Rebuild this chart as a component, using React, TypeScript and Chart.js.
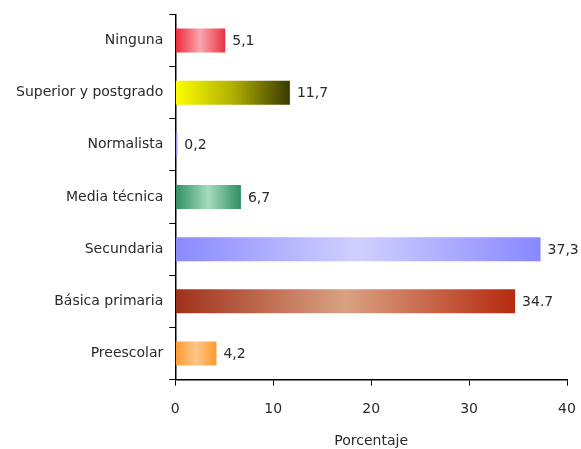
import React, { useEffect, useRef } from "react";
import { Chart, registerables } from "chart.js";

Chart.register(...registerables);

const categories = [
  "Ninguna",
  "Superior y postgrado",
  "Normalista",
  "Media técnica",
  "Secundaria",
  "Básica primaria",
  "Preescolar",
];
const values = [5.1, 11.7, 0.2, 6.7, 37.3, 34.7, 4.2];
const valueLabels = ["5,1", "11,7", "0,2", "6,7", "37,3", "34.7", "4,2"];
const xTicks = [0, 10, 20, 30, 40];
const gradientStops: string[][] = [
  ["#ee2a36", "#f9a6ae", "#e8323e"],
  ["#ffff00", "#b0b000", "#3a3a00"],
  ["#7070e0", "#a0a0f0", "#7070e0"],
  ["#2f8f5f", "#a6dcc0", "#2f8f5f"],
  ["#8a8aff", "#d0d0ff", "#8888ff"],
  ["#a0301a", "#d9a283", "#b52a10"],
  ["#ff9a30", "#ffc689", "#ff9a30"],
];

const FONT = "'DejaVu Sans', sans-serif";
const TEXT = "#2a2a2a";

const valueLabelPlugin = {
  id: "valueLabels",
  afterDatasetsDraw(chart: any) {
    const ctx = chart.ctx;
    const meta = chart.getDatasetMeta(0);
    ctx.save();
    ctx.font = `14px ${FONT}`;
    ctx.fillStyle = TEXT;
    ctx.textBaseline = "middle";
    ctx.textAlign = "left";
    meta.data.forEach((bar: any, i: number) => {
      ctx.fillText(valueLabels[i], bar.x + 7, bar.y + 1);
    });
    ctx.restore();
  },
};

export default function App() {
  const ref = useRef<HTMLCanvasElement>(null);
  useEffect(() => {
    if (!ref.current) return;
    const chart = new Chart(ref.current, {
      type: "bar",
      data: {
        labels: categories,
        datasets: [
          {
            data: values,
            barPercentage: 0.46,
            categoryPercentage: 1,
            backgroundColor: (c: any) => {
              const ch = c.chart;
              const i = c.dataIndex;
              const stops = gradientStops[i] || ["#888", "#888", "#888"];
              const sx = ch.scales && ch.scales.x;
              if (!ch.chartArea || !sx || i === undefined) return stops[0];
              const x0 = sx.getPixelForValue(0);
              let x1 = sx.getPixelForValue(values[i]);
              if (!isFinite(x0) || !isFinite(x1)) return stops[0];
              if (x1 - x0 < 1) x1 = x0 + 1;
              const g = ch.ctx.createLinearGradient(x0, 0, x1, 0);
              g.addColorStop(0, stops[0]);
              g.addColorStop(0.5, stops[1]);
              g.addColorStop(1, stops[2]);
              return g;
            },
            borderWidth: 0,
          },
        ],
      },
      options: {
        indexAxis: "y",
        animation: false,
        responsive: true,
        maintainAspectRatio: false,
        layout: { padding: { top: 14, right: 0, left: 10, bottom: 0 } },
        plugins: {
          legend: { display: false },
          tooltip: { enabled: false },
        },
        scales: {
          x: {
            min: 0,
            max: 40,
            afterBuildTicks: (s: any) => {
              s.ticks = xTicks.map((v) => ({ value: v }));
            },
            afterFit: (s: any) => {
              s.paddingRight = 14;
            },
            grid: {
              drawOnChartArea: false,
              drawTicks: true,
              tickLength: 6,
              color: "#000",
            },
            border: { color: "#000", width: 1.5 },
            ticks: {
              color: TEXT,
              font: { family: FONT, size: 14, lineHeight: 1 },
              padding: 17,
            },
            title: {
              display: true,
              text: "Porcentaje",
              color: TEXT,
              font: { family: FONT, size: 14, lineHeight: 1.1 },
              padding: { top: 0, bottom: 0 },
            },
          },
          y: {
            grid: {
              drawOnChartArea: false,
              drawTicks: true,
              tickLength: 6,
              color: "#000",
              offset: true,
            },
            border: { color: "#000", width: 1.5 },
            ticks: {
              color: TEXT,
              font: { family: FONT, size: 14 },
              padding: 6,
            },
          },
        },
      },
      plugins: [valueLabelPlugin],
    } as any);
    return () => chart.destroy();
  }, []);
  return (
    <div
      style={{
        position: "absolute",
        left: 0,
        top: 0,
        width: 581,
        height: 449,
        background: "#fff",
      }}
    >
      <canvas ref={ref} />
    </div>
  );
}
